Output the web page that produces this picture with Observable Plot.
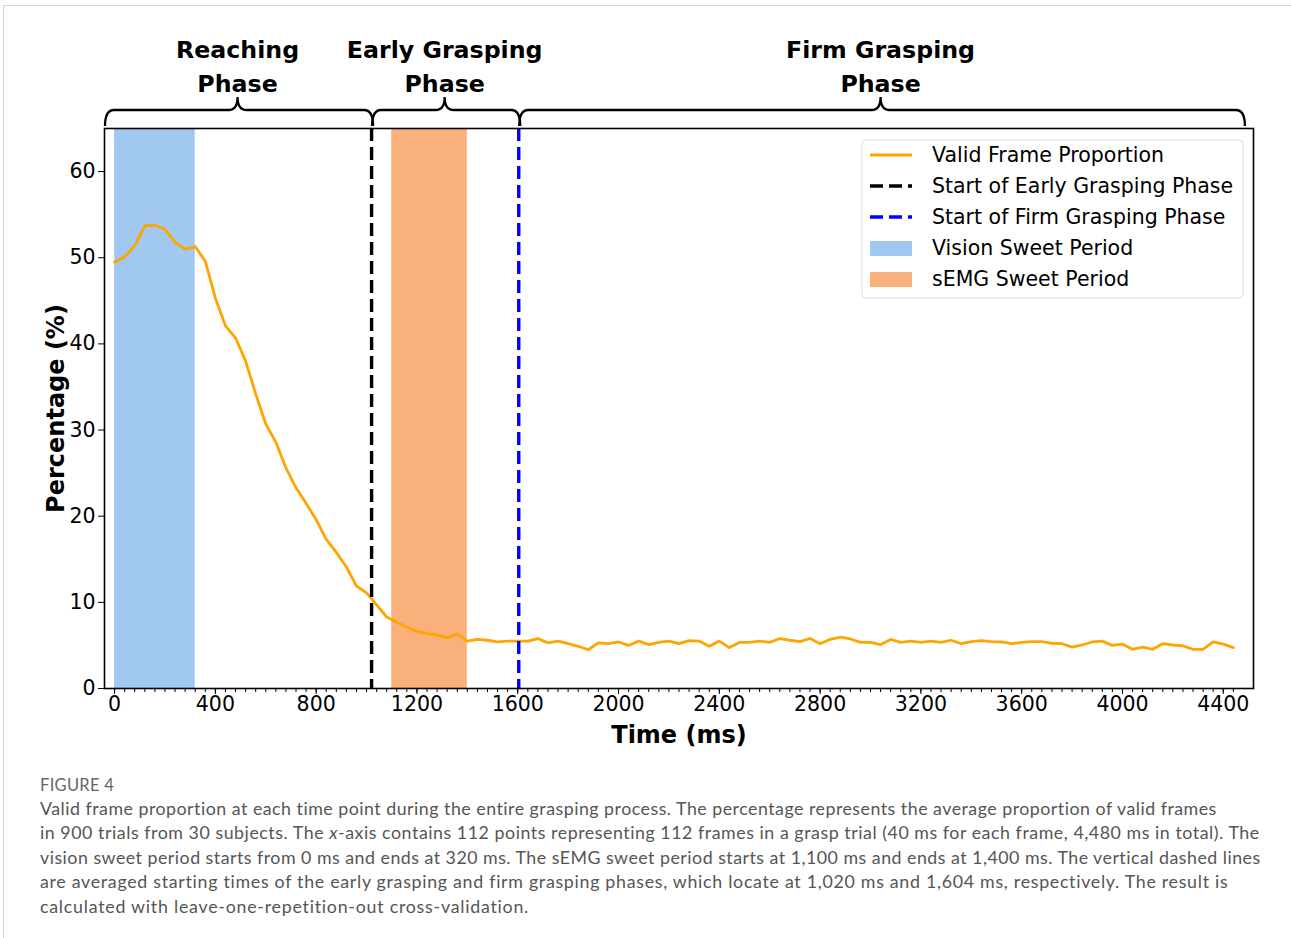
<!DOCTYPE html>
<html>
<head>
<meta charset="utf-8">
<script src="https://cdn.jsdelivr.net/npm/d3@7"></script>
<script src="https://cdn.jsdelivr.net/npm/@observablehq/plot@0.6"></script>
<style>
  html, body { margin: 0; padding: 0; background: #fff; }
  #wrap { position: relative; width: 1291px; height: 938px; overflow: hidden; }
  #border { position: absolute; left: 3px; top: 5px; right: -2px; bottom: -2px;
            border-top: 1px solid #d4d4d4; border-left: 1px solid #d4d4d4; }
  #chart { position: absolute; left: 0; top: 0; }
  #caption { position: absolute; left: 40px; top: 774px; font-family: Lato, "Open Sans", sans-serif;
             color: #555; white-space: nowrap; }
  #caption .fig { font-size: 16.5px; letter-spacing: 0.3px; color: #666; line-height: 22px; }
  #caption .txt { font-size: 17.8px; line-height: 24.4px; }
  #caption .txt span { display: inline-block; }
</style>
</head>
<body>
<div id="wrap">
  <div id="border"></div>
  <div id="chart"></div>
  <div id="caption">
    <div class="fig">FIGURE 4</div>
    <div class="txt">
      <div><span data-w="1178">Valid frame proportion at each time point during the entire grasping process. The percentage represents the average proportion of valid frames</span></div>
      <div><span data-w="1220">in 900 trials from 30 subjects. The <i>x</i>-axis contains 112 points representing 112 frames in a grasp trial (40 ms for each frame, 4,480 ms in total). The</span></div>
      <div><span data-w="1221">vision sweet period starts from 0 ms and ends at 320 ms. The sEMG sweet period starts at 1,100 ms and ends at 1,400 ms. The vertical dashed lines</span></div>
      <div><span data-w="1189">are averaged starting times of the early grasping and firm grasping phases, which locate at 1,020 ms and 1,604 ms, respectively. The result is</span></div>
      <div><span data-w="490">calculated with leave-one-repetition-out cross-validation.</span></div>
    </div>
  </div>
</div>
<script>
// ---------------- data ----------------
// 112 frames, 40 ms each (0 .. 4440 ms)
const frameTimes = d3.range(0, 4480, 40);
const validPct = [
  49.5, 50.1, 51.4, 53.7, 53.8, 53.3, 51.8, 51.0, 51.3, 49.6,
  45.3, 42.1, 40.7, 38.0, 34.2, 30.7, 28.6, 25.6, 23.3, 21.5,
  19.6, 17.3, 15.8, 14.1, 11.9, 11.1, 9.7, 8.3, 7.7, 7.1,
  6.6, 6.4, 6.2, 5.9, 6.35, 5.5, 5.7, 5.6, 5.4, 5.5,
  5.5, 5.5, 5.8, 5.3, 5.5, 5.2, 4.9, 4.5, 5.3, 5.2,
  5.4, 5.0, 5.5, 5.1, 5.35, 5.5, 5.2, 5.55, 5.5, 4.9,
  5.5, 4.75, 5.35, 5.35, 5.5, 5.35, 5.8, 5.6, 5.45, 5.8,
  5.2, 5.7, 5.95, 5.75, 5.35, 5.35, 5.1, 5.7, 5.35, 5.5,
  5.35, 5.5, 5.35, 5.6, 5.2, 5.45, 5.55, 5.45, 5.4, 5.2,
  5.35, 5.45, 5.45, 5.25, 5.2, 4.8, 5.05, 5.4, 5.5, 5.0,
  5.15, 4.55, 4.8, 4.55, 5.2, 5.05, 4.95, 4.55, 4.55, 5.4,
  5.15, 4.75
];

const bandNames  = ["Vision Sweet Period", "sEMG Sweet Period"];
const bandStarts = [0, 1100];
const bandEnds   = [320, 1400];
const bandColors = ["#a1c8f1", "#f9b07b"];

const phaseLineNames  = ["Start of Early Grasping Phase", "Start of Firm Grasping Phase"];
const phaseLineTimes  = [1020, 1604];
const phaseLineColors = ["#000000", "#0000ff"];

const phaseNames  = [["Reaching", "Phase"], ["Early Grasping", "Phase"], ["Firm Grasping", "Phase"]];
const phaseStarts = [-40, 1020, 1604];
const phaseEnds   = [1020, 1604, 4480];

const lineName  = "Valid Frame Proportion";
const lineColor = "#ffa500";

const xMajorTicks = d3.range(0, 4401, 400);
const xMinorTicks = frameTimes;
const yTicks = [0, 10, 20, 30, 40, 50, 60];

// ---------------- build tables ----------------
const series = frameTimes.map((t, i) => ({t, v: validPct[i]}));
const bands = bandNames.map((n, i) => ({name: n, start: bandStarts[i], end: bandEnds[i], color: bandColors[i]}));
const phaseLines = phaseLineNames.map((n, i) => ({name: n, t: phaseLineTimes[i], color: phaseLineColors[i]}));

const DASH = "13,6";
const DASH_W = 3.4;

const chart = Plot.plot({
  width: 1291,
  height: 760,
  marginLeft: 104,
  marginRight: 38,
  marginTop: 128,
  marginBottom: 72,
  style: {fontFamily: "DejaVu Sans", fontSize: "20.5px", color: "black", background: "transparent", overflow: "visible"},
  x: {domain: [-40, 4520]},
  y: {domain: [0, 65]},
  marks: [
    Plot.rect(bands, {x1: "start", x2: "end", fill: "color"}),
    Plot.line(series, {x: "t", y: "v", stroke: lineColor, strokeWidth: 2.8}),
    Plot.ruleX(phaseLines, {x: "t", stroke: "color", strokeWidth: DASH_W, strokeDasharray: DASH}),
    Plot.frame({stroke: "black", strokeWidth: 1.6}),
    Plot.axisY({ticks: yTicks, tickSize: 6, tickPadding: 3, label: null, tickFormat: d => String(d)}),
    Plot.axisX({ticks: xMinorTicks, tickSize: 4, tickFormat: () => "", label: null}),
    Plot.axisX({ticks: xMajorTicks, tickSize: 6, tickPadding: 2, label: null, tickFormat: d => String(d)}),
    Plot.text(["Time (ms)"], {frameAnchor: "bottom", dy: 47, fontSize: 24, fontWeight: "bold", lineAnchor: "middle", textAnchor: "middle"}),
    Plot.text(["Percentage (%)"], {frameAnchor: "left", dx: -48, rotate: -90, fontSize: 24, fontWeight: "bold", lineAnchor: "middle", textAnchor: "middle"})
  ]
});

document.getElementById("chart").appendChild(chart);

// ---------------- phase braces & legend (annotation layer) ----------------
const svg = d3.select(chart);
const xs = chart.scale("x");
const X = v => xs.apply(v);

const braceY = 110, braceEndY = 126, braceTipY = 97, r = 9;
const braces = svg.append("g").attr("fill", "none").attr("stroke", "black").attr("stroke-width", 2.3);
const labels = svg.append("g").attr("font-family", "DejaVu Sans").attr("font-weight", "bold")
  .attr("font-size", 23.7).attr("text-anchor", "middle").attr("fill", "black");

phaseNames.forEach((lines, i) => {
  const x0 = X(phaseStarts[i]) + 1, x1 = X(phaseEnds[i]) + 2, xm = (X(phaseStarts[i]) + X(phaseEnds[i])) / 2;
  const p = `M${x0},${braceEndY} Q${x0},${braceY} ${x0 + r},${braceY} L${xm - r},${braceY} Q${xm},${braceY} ${xm},${braceTipY}`
          + ` Q${xm},${braceY} ${xm + r},${braceY} L${x1 - r},${braceY} Q${x1},${braceY} ${x1},${braceEndY}`;
  braces.append("path").attr("d", p);
  lines.forEach((s, j) => {
    labels.append("text").attr("x", xm).attr("y", 58 + j * 34).text(s);
  });
});

// legend
const lg = svg.append("g").attr("transform", "translate(862,140)").attr("text-anchor", "start");
lg.append("rect").attr("width", 381).attr("height", 158).attr("rx", 4)
  .attr("fill", "white").attr("fill-opacity", 0.85).attr("stroke", "#dcdcdc").attr("stroke-width", 1);
const legendItems = [
  {label: lineName, kind: "line", color: lineColor, dash: null},
  {label: phaseLineNames[0], kind: "line", color: phaseLineColors[0], dash: DASH, w: DASH_W},
  {label: phaseLineNames[1], kind: "line", color: phaseLineColors[1], dash: DASH, w: DASH_W},
  {label: bandNames[0], kind: "patch", color: bandColors[0]},
  {label: bandNames[1], kind: "patch", color: bandColors[1]}
];
legendItems.forEach((it, i) => {
  const cy = 15 + i * 31;
  if (it.kind === "line") {
    const l = lg.append("line").attr("x1", 8).attr("x2", 50).attr("y1", cy).attr("y2", cy)
      .attr("stroke", it.color).attr("stroke-width", it.w || 2.8);
    if (it.dash) l.attr("stroke-dasharray", it.dash);
  } else {
    lg.append("rect").attr("x", 8).attr("y", cy - 7).attr("width", 42).attr("height", 15).attr("fill", it.color);
  }
  lg.append("text").attr("x", 70).attr("y", cy).attr("dy", "0.36em").attr("text-anchor", "start")
    .attr("font-family", "DejaVu Sans").attr("font-size", 20.5).attr("fill", "black").text(it.label);
});

// fit caption lines to the widths of the reference lines
document.querySelectorAll("#caption .txt span").forEach(sp => {
  const target = +sp.dataset.w;
  const w = sp.getBoundingClientRect().width;
  const n = sp.textContent.length;
  sp.style.letterSpacing = ((target - w) / n) + "px";
});
</script>
</body>
</html>
